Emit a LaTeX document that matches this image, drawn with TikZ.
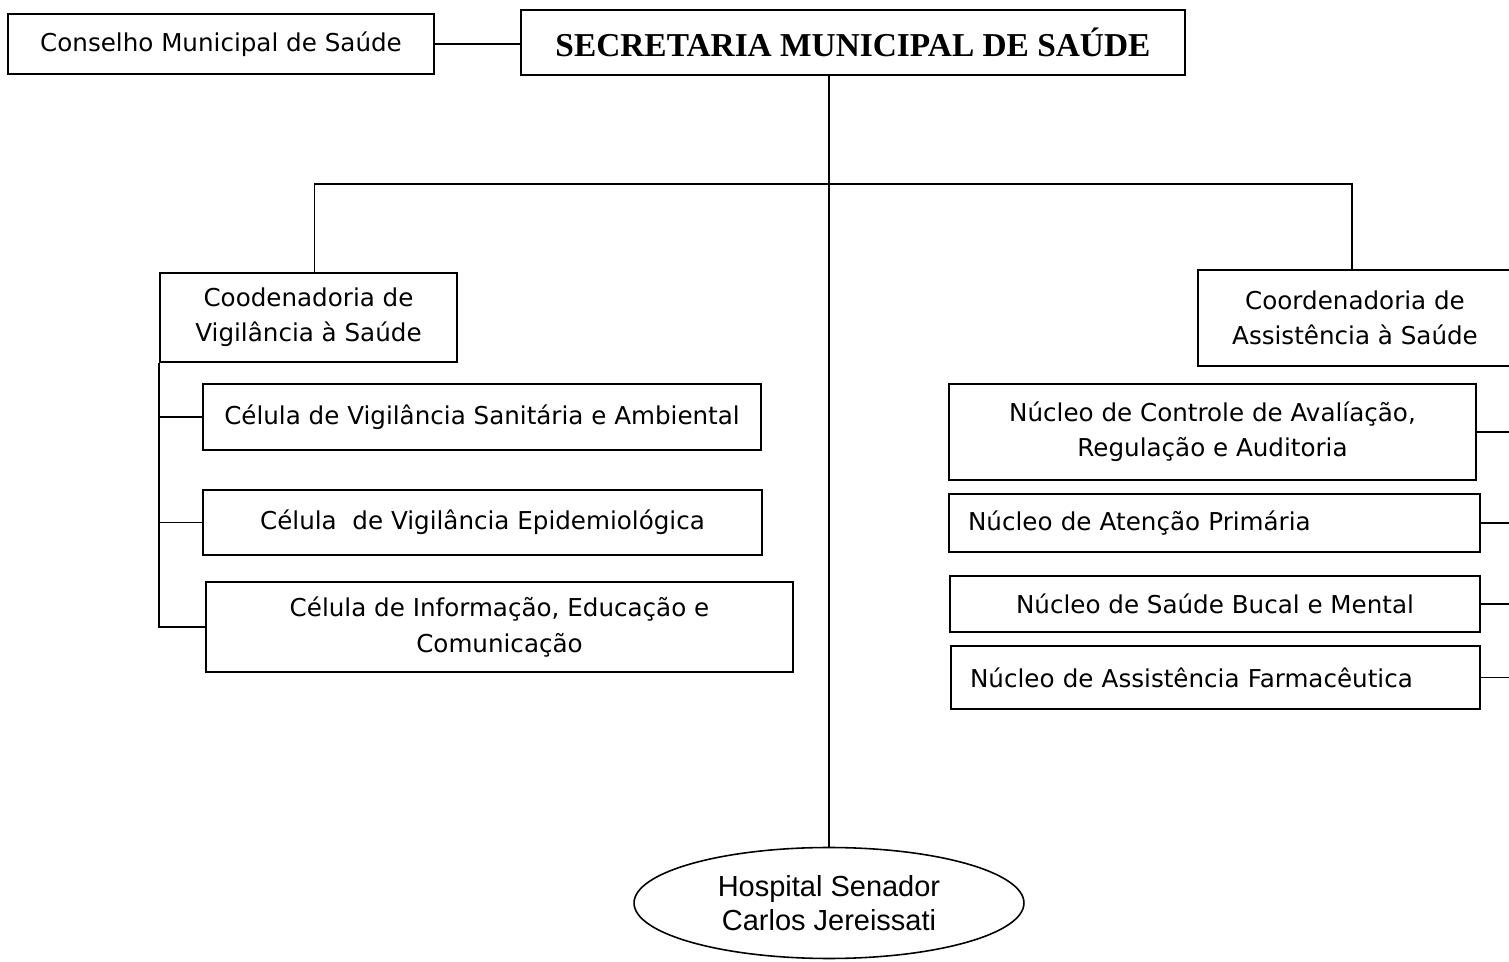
\documentclass[tikz,border=0pt]{standalone}
\usepackage{fontspec}
\newfontfamily\tahomafont{DejaVu Sans}
\newfontfamily\arialfont{Liberation Sans}
\newfontfamily\timesfont{Liberation Serif}
\usetikzlibrary{positioning,shapes.geometric}

\begin{document}
\begin{tikzpicture}[x=0.02cm,y=-0.02cm,line width=0.9pt,every node/.style={draw,line width=0.9pt,inner sep=0pt,align=center,font=\tahomafont\fontsize{14}{20}\selectfont},unitbox/.style={rectangle,minimum width=#1},leftbox/.style={unitbox=#1,align=left,text width=#1-0.76cm}]
  \useasboundingbox (0,0) rectangle (1509,962);
  \clip (0,0) rectangle (1509,962);
  \node (conselho) [unitbox=8.52cm,minimum height=1.2cm] at (221,44) {Conselho Municipal de Saúde};
  \node (secretaria) [unitbox=13.28cm,minimum height=1.3cm,font=\timesfont\bfseries\fontsize{19}{22}\selectfont] at (853,42.5) {SECRETARIA MUNICIPAL DE SAÚDE};
  \node (cvs) [unitbox=5.94cm,minimum height=1.78cm] at (308.5,317.5) {Coodenadoria de\\Vigilância à Saúde};
  \node (cas) [unitbox=6.28cm,minimum height=1.92cm] at (1355,318) {Coordenadoria de\\Assistência à Saúde};
  % left side
  \node (san) [unitbox=11.16cm,minimum height=1.32cm] at (482,417) {Célula de Vigilância Sanitária e Ambiental};
  \node (epi) [unitbox=11.18cm,minimum height=1.3cm] at (482.5,522.5) {Célula~~de Vigilância Epidemiológica};
  \node (inf) [unitbox=11.74cm,minimum height=1.8cm] at (499.5,627) {Célula de Informação, Educação e\\Comunicação};
  % right side
  \node (ctrl) [unitbox=10.54cm,minimum height=1.92cm] at (1212.5,432) {Núcleo de Controle de Avalíação,\\Regulação e Auditoria};
  \node (aten) [leftbox=10.62cm,minimum height=1.16cm] at (1214.5,523) {Núcleo de Atenção Primária};
  \node (buc) [unitbox=10.6cm,minimum height=1.12cm] at (1215,604) {Núcleo de Saúde Bucal e Mental};
  \node (farm) [leftbox=10.58cm,minimum height=1.26cm] at (1215.5,677.5) {Núcleo de Assistência Farmacêutica};
  \node (hosp) [ellipse,minimum width=7.8cm,minimum height=2.22cm,font=\arialfont\fontsize{16.5}{19}\selectfont] at (829,903) {Hospital Senador\\Carlos Jereissati};
  \coordinate (rtrunk) at (1515,300);
  % connectors
  \draw (conselho.east) -- (conselho.east -| secretaria.west);
  \draw (secretaria.south -| hosp.north) -- (hosp.north);
  \draw ([xshift=0.12cm]cvs.north) -- ++(0,-88) -| ([xshift=-0.06cm]cas.north);
  \draw (cvs.south west) |- (inf.west);
  \draw (cvs.south west |- san.west) -- (san.west);
  \draw (cvs.south west |- epi.west) -- (epi.west);
  \foreach \n in {ctrl,aten,buc,farm}
    \draw (\n.east) -- (\n.east -| rtrunk);
\end{tikzpicture}
\end{document}
